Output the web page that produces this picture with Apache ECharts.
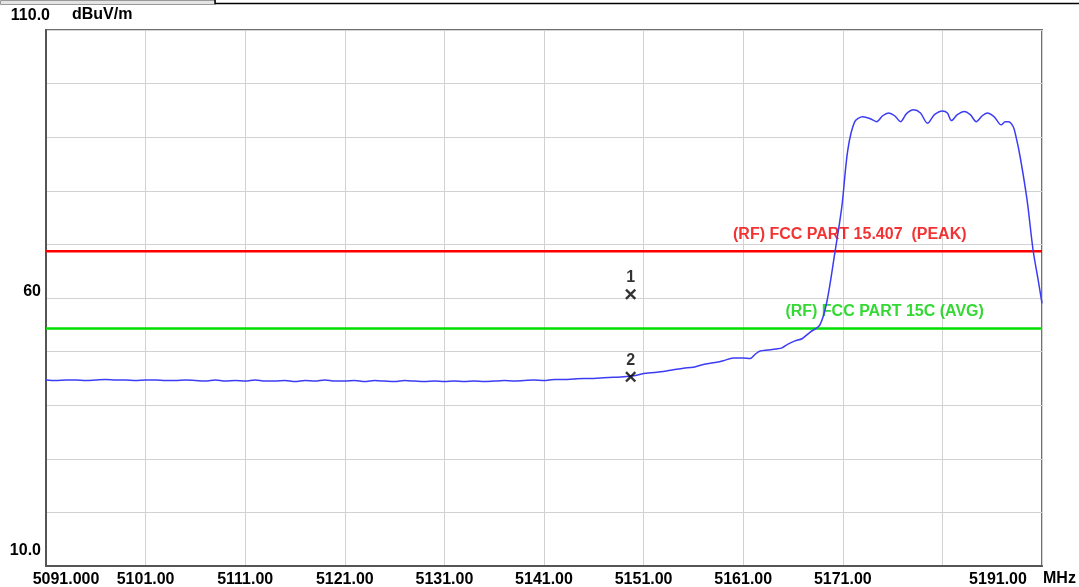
<!DOCTYPE html>
<html lang="en" style="height: 100%;margin: 0;">
<head>
    <meta charset="UTF-8">
    <title>chart</title>
</head>
<body style="height: 100%;margin: 0;background: #fff;">
<div id="chart" style="width: 1079px;height: 587px;margin: 0;"></div>
<script src="https://cdn.jsdelivr.net/npm/echarts/dist/echarts.min.js"></script>
<script>
    // trace (MHz / dBuV/m)
    var freqs = [
        5091, 5092, 5093, 5094, 5095, 5096, 5097, 5098, 5099, 5100,
        5101, 5102, 5103, 5104, 5105, 5106, 5107, 5108, 5109, 5110,
        5111, 5112, 5113, 5114, 5115, 5116, 5117, 5118, 5119, 5120,
        5121, 5122, 5123, 5124, 5125, 5126, 5127, 5128, 5129, 5130,
        5131, 5132, 5133, 5134, 5135, 5136, 5137, 5138, 5139, 5140,
        5141, 5142, 5143, 5144, 5145, 5146, 5147, 5148, 5149, 5150,
        5151, 5152, 5153, 5154, 5155, 5156, 5157, 5158, 5159, 5160,
        5161, 5161.7, 5162.2, 5162.7, 5163.5, 5164.3, 5164.9, 5165.5, 5166.2, 5166.9,
        5167.7, 5168.7, 5169.4, 5170.2, 5170.9, 5171.5, 5172.2, 5173.0, 5173.7, 5174.4,
        5175.0, 5175.6, 5176.2, 5176.8, 5177.4, 5178.1, 5178.8, 5179.5, 5180.2, 5181.0,
        5181.5, 5181.9, 5182.5, 5183.2, 5183.8, 5184.4, 5185.0, 5185.5, 5186.2, 5186.9,
        5187.3, 5187.6, 5188.1, 5188.4, 5188.8, 5189.5, 5190.1, 5190.6, 5191.0
    ];
    var levels = [
        44.7, 44.6, 44.7, 44.7, 44.6, 44.7, 44.8, 44.7, 44.7, 44.6,
        44.7, 44.7, 44.6, 44.6, 44.7, 44.6, 44.5, 44.7, 44.5, 44.6,
        44.5, 44.7, 44.5, 44.5, 44.6, 44.4, 44.6, 44.5, 44.7, 44.5,
        44.5, 44.6, 44.4, 44.6, 44.5, 44.4, 44.6, 44.5, 44.4, 44.5,
        44.4, 44.5, 44.4, 44.5, 44.4, 44.5, 44.6, 44.5, 44.6, 44.7,
        44.6, 44.8, 44.8, 44.9, 45.0, 45.0, 45.1, 45.2, 45.3, 45.5,
        45.9, 46.1, 46.3, 46.6, 46.9, 47.1, 47.6, 47.9, 48.3, 48.8,
        48.8, 48.7, 49.5, 50.1, 50.3, 50.5, 50.7, 51.4, 52.0, 52.4,
        53.6, 55.0, 59.3, 68.4, 77.0, 87.6, 92.9, 93.8, 93.5, 92.9,
        94.0, 94.5, 94.0, 92.9, 94.4, 95.1, 94.5, 92.6, 94.2, 94.9,
        94.5, 93.1, 94.2, 94.8, 94.2, 92.9, 94.0, 94.5, 93.8, 92.3,
        92.9, 92.9, 92.0, 90.0, 86.4, 78.3, 69.0, 63.5, 59.0
    ];

    var limitNames = ['(RF) FCC PART 15.407  (PEAK)', '(RF) FCC PART 15C (AVG)'];
    var limitLevels = [68.7, 54.3];
    var limitColors = ['#ff0000', '#00e000'];
    var limitTextColors = ['#f00000', '#00d000'];

    var markerNames = ['1', '2'];
    var markerFreqs = [5149.7, 5149.7];
    var markerLevels = [60.7, 45.3];

    var xStart = 5091, xStop = 5191, xStep = 10;
    var yMin = 10, yMax = 110, yStep = 10;

    var font = "'Liberation Sans', Arial, sans-serif";
    var myChart = echarts.init(document.getElementById('chart'), null, {renderer: 'canvas'});

    var trace = [];
    for (var i = 0; i < freqs.length; i++) {
        trace.push([freqs[i], levels[i]]);
    }

    var series = [];
    // label anchors for the limit lines (x where the text sits)
    var limitLabelAt = [5171.7, 5175.2];
    for (var k = 0; k < limitLevels.length; k++) {
        series.push({
            name: limitNames[k],
            type: 'line',
            symbol: 'none',
            silent: true,
            lineStyle: {color: limitColors[k], width: 2.5},
            data: [[xStart, limitLevels[k]], [xStop, limitLevels[k]]],
            z: 2
        });
        series.push({
            type: 'scatter',
            symbolSize: 0,
            silent: true,
            data: [[limitLabelAt[k], limitLevels[k]]],
            label: {
                show: true,
                position: 'top',
                distance: 9,
                formatter: limitNames[k],
                color: limitTextColors[k],
                fontFamily: font,
                fontWeight: 'bold',
                fontSize: 16
            },
            z: 3
        });
    }

    series.push({
        name: 'trace',
        type: 'line',
        symbol: 'none',
        smooth: 0.3,
        lineStyle: {color: '#3c3cf5', width: 1.5},
        data: trace,
        z: 4
    });

    var marks = [];
    for (var m = 0; m < markerNames.length; m++) {
        marks.push({name: markerNames[m], value: [markerFreqs[m], markerLevels[m]]});
    }
    series.push({
        type: 'scatter',
        symbol: 'path://M0,1.5L1.5,0L5,3.5L8.5,0L10,1.5L6.5,5L10,8.5L8.5,10L5,6.5L1.5,10L0,8.5L3.5,5Z',
        symbolSize: 11,
        itemStyle: {color: '#000'},
        label: {
            show: true,
            position: 'top',
            distance: 3,
            formatter: '{b}',
            color: '#000',
            fontFamily: font,
            fontWeight: 'bold',
            fontSize: 16
        },
        data: marks,
        z: 5
    });

    var option = {
        backgroundColor: '#fff',
        animation: false,
        textStyle: {fontFamily: font},
        grid: {
            left: 46, right: 37, top: 30, bottom: 21,
            outerBoundsMode: 'none',
            containLabel: false,
            show: true,
            borderColor: '#707070',
            borderWidth: 2
        },
        xAxis: {
            type: 'value',
            min: xStart,
            max: xStop,
            interval: xStep,
            name: 'MHz',
            nameLocation: 'end',
            nameGap: 1,
            nameTextStyle: {
                color: '#000', fontFamily: font, fontWeight: 'bold', fontSize: 16,
                align: 'left', verticalAlign: 'top', padding: [5, 0, 0, 0]
            },
            axisLine: {show: true, lineStyle: {color: '#555', width: 2}},
            axisTick: {show: false},
            splitLine: {show: true, lineStyle: {color: '#d2d2d2', width: 1}},
            axisLabel: {
                margin: 6,
                color: '#000',
                fontFamily: font,
                fontWeight: 'bold',
                fontSize: 16,
                showMinLabel: true,
                showMaxLabel: true,
                formatter: function (v) {
                    if (v === xStart) return '{first|' + v.toFixed(3) + '}';
                    if (v === xStop) return '{last|' + v.toFixed(2) + '}';
                    if (v === xStop - xStep) return '';
                    return v.toFixed(2);
                },
                rich: {
                    first: {fontFamily: font, fontWeight: 'bold', fontSize: 16, color: '#000', padding: [0, 0, 0, 40]},
                    last: {fontFamily: font, fontWeight: 'bold', fontSize: 16, color: '#000', padding: [0, 88, 0, 0]}
                }
            }
        },
        yAxis: {
            type: 'value',
            min: yMin,
            max: yMax,
            interval: yStep,
            name: 'dBuV/m',
            nameLocation: 'end',
            nameGap: 7,
            nameTextStyle: {
                color: '#000', fontFamily: font, fontWeight: 'bold', fontSize: 16,
                align: 'left', padding: [0, 0, 0, 26]
            },
            axisLine: {show: true, lineStyle: {color: '#555', width: 2}},
            axisTick: {show: false},
            splitLine: {show: true, lineStyle: {color: '#d2d2d2', width: 1}},
            axisLabel: {
                margin: -4,
                color: '#000',
                fontFamily: font,
                fontWeight: 'bold',
                fontSize: 16,
                showMinLabel: true,
                showMaxLabel: true,
                formatter: function (v) {
                    if (v === yMax) return '{top|' + v.toFixed(1) + '}';
                    if (v === yMin) return '{bot|' + v.toFixed(1) + '}';
                    if (v === 60) return '{mid|60}';
                    return '';
                },
                rich: {
                    top: {fontFamily: font, fontWeight: 'bold', fontSize: 16, color: '#000', padding: [0, 0, 29, 0]},
                    mid: {fontFamily: font, fontWeight: 'bold', fontSize: 16, color: '#000', padding: [0, 9, 12, 0]},
                    bot: {fontFamily: font, fontWeight: 'bold', fontSize: 16, color: '#000', padding: [0, 9, 31, 0]}
                }
            }
        },
        graphic: [
            {type: 'rect', left: 0, top: 0, shape: {width: 215, height: 4}, style: {fill: '#e4e4e4', stroke: '#999', lineWidth: 1}},
            {type: 'line', shape: {x1: 215, y1: 3.5, x2: 1079, y2: 3.5}, style: {stroke: '#000', lineWidth: 1.5}},
            {type: 'line', shape: {x1: 215, y1: 0, x2: 215, y2: 4}, style: {stroke: '#000', lineWidth: 1.5}}
        ],
        series: series
    };

    myChart.setOption(option, true);
</script>
</body>
</html>
